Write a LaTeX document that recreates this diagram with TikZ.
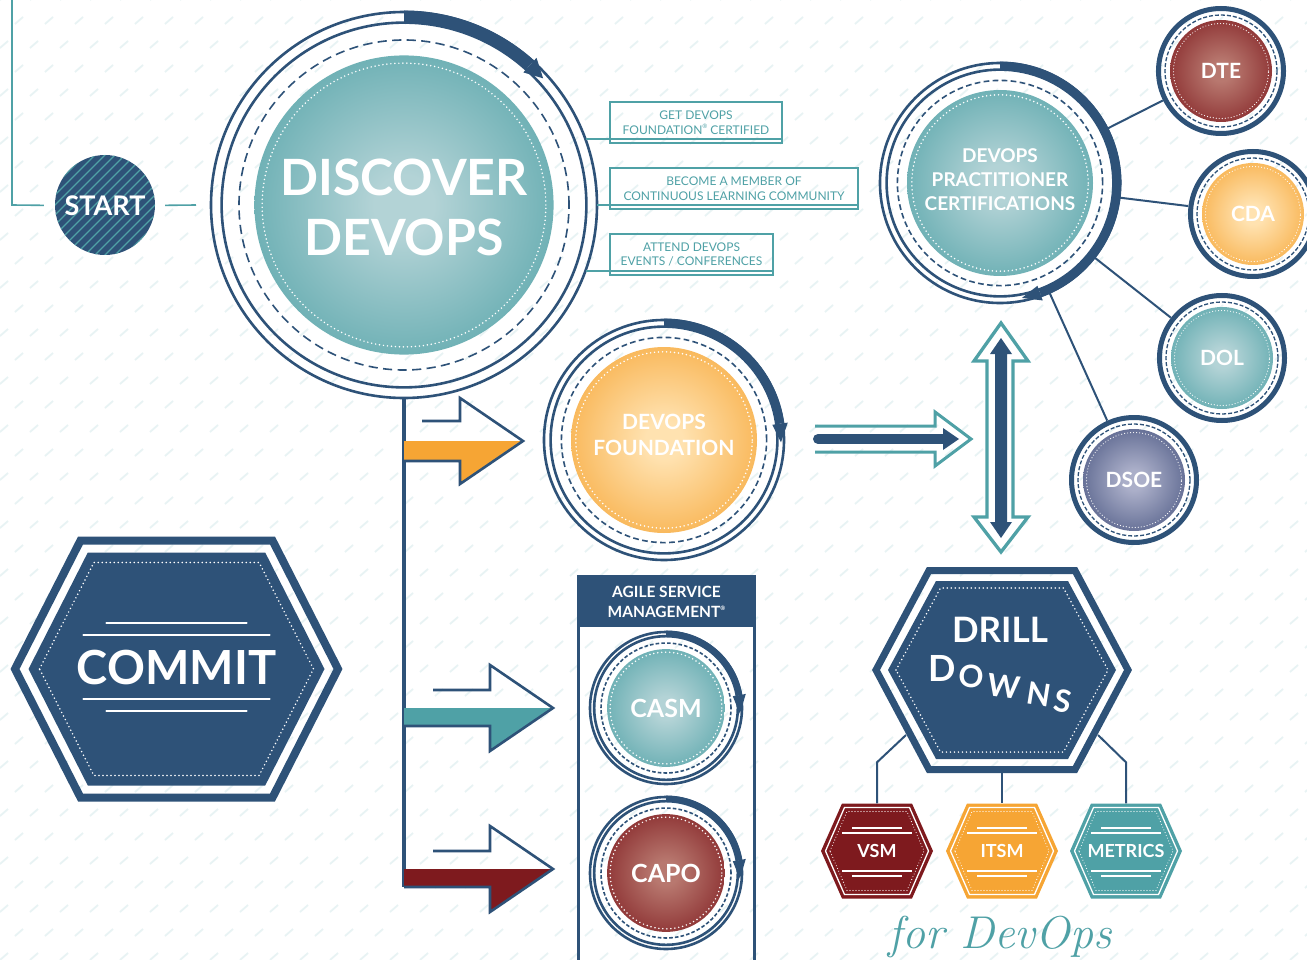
\documentclass[tikz,border=0pt]{standalone}
\usepackage{fontspec}
\setmainfont{Lato}
\usepackage{xcolor}
\definecolor{navy}{HTML}{2E5278}
\definecolor{tealC}{HTML}{4FA1A6}
\definecolor{tealL}{HTML}{B3D3D6}
\definecolor{orangeC}{HTML}{F6A534}
\definecolor{orangeL}{HTML}{FFE2B0}
\definecolor{redC}{HTML}{7E1A1E}
\definecolor{redL}{HTML}{B8786F}
\definecolor{slateC}{HTML}{46537F}
\definecolor{slateL}{HTML}{ABAFC9}
\pgfdeclareradialshading{glowteal}{\pgfpoint{0bp}{0bp}}{color(0bp)=(tealL); color(5bp)=(tealL); color(35bp)=(tealC); color(50bp)=(tealC)}
\pgfdeclareradialshading{gloworange}{\pgfpoint{0bp}{0bp}}{color(0bp)=(orangeL); color(5bp)=(orangeL); color(35bp)=(orangeC); color(50bp)=(orangeC)}
\pgfdeclareradialshading{glowred}{\pgfpoint{0bp}{0bp}}{color(0bp)=(redL); color(5bp)=(redL); color(35bp)=(redC); color(50bp)=(redC)}
\pgfdeclareradialshading{glowslate}{\pgfpoint{0bp}{0bp}}{color(0bp)=(slateL); color(5bp)=(slateL); color(35bp)=(slateC); color(50bp)=(slateC)}
\newcommand{\hexshape}[3]{(-#1,0) -- (-#2,#3) -- (#2,#3) -- (#1,0) -- (#2,-#3) -- (-#2,-#3) -- cycle}
\newcommand{\regmark}{\raisebox{0.45em}{\fontsize{6}{6}\selectfont ®}}

\begin{document}
\begin{tikzpicture}[x=1pt, y=1pt,
    ringline/.style={navy, line width=2.6pt},
    dotring/.style={white, line width=1.7pt, line cap=round, dash pattern=on 0pt off 4pt},
    link/.style={navy, line width=2pt},
    tealline/.style={tealC, line width=1.6pt},
    infobox/.style={draw=tealC, line width=1.4pt, text=tealC, align=center, inner sep=0pt, font=\fontsize{12}{14.5}\selectfont},
    wtext/.style={text=white, align=center, inner sep=0pt},
    bgdash/.style={tealC!13, line width=1.8pt}]

    \useasboundingbox (0,0) rectangle (1307,-960);
    \clip (0,0) rectangle (1307,-960);
    \fill[white] (0,0) rectangle (1307,-960);
    \draw[bgdash] \foreach \i in {0,...,44}{ \foreach \j in {0,...,40}{ ({\i*30+mod(\j,2)*15},{-\j*24}) -- ++(8,7) } };

    % start
    \fill[navy] (105,-205) circle[radius=50];
    \begin{scope}
        \clip (105,-205) circle[radius=50];
        \foreach \k in {-120,-110,...,120} \draw[tealC, line width=1.4pt] ({45+\k},-265) -- ++(120,120);
    \end{scope}
    \node[circle, minimum size=100pt, wtext, font=\fontsize{27}{27}\selectfont\bfseries] (start) at (105,-206) {START};
    \coordinate (frame-top) at (12,2);
    \coordinate (frame-corner) at (12,-205);
    \coordinate (start-lead) at (196,-205);
    \draw[tealline, shorten >=11pt] (frame-top) -- (frame-corner) -- (start);
    \draw[tealline, shorten <=10pt] (start) -- (start-lead);

    % ringed circles
    \foreach \n/\cx/\cy/\rad/\ang/\sh in {disc/404/205/193/48/glowteal, found/664/440/120/8/gloworange, prac/1000/183/120/-70/glowteal, casm/666/708/76/10/glowteal, capo/666/873/76/10/glowred}{
        \pgfmathsetmacro\rIn{0.945*\rad}
        \pgfmathsetmacro\rOut{\rad+1.5}
        \pgfmathsetmacro\rDash{0.855*\rad}
        \pgfmathsetmacro\rFill{0.775*\rad}
        \pgfmathsetmacro\rDot{0.735*\rad}
        \pgfmathsetmacro\rMid{0.975*\rad}
        \pgfmathsetmacro\rHa{0.945*\rad-4}
        \pgfmathsetmacro\rHb{\rad+5}
        \pgfmathsetmacro\aTip{\ang-1100/\rad}
        \pgfmathsetmacro\dSize{2*\rad}
        \pgfmathsetlengthmacro\dOn{\rad/21}
        \pgfmathsetlengthmacro\dOff{\rad/36}
        \shade[shading=\sh] (\cx,-\cy) circle[radius=\rFill];
        \draw[dotring] (\cx,-\cy) circle[radius=\rDot];
        \draw[navy, line width=1.6pt, dash pattern=on \dOn off \dOff] (\cx,-\cy) circle[radius=\rDash];
        \draw[ringline] (\cx,-\cy) circle[radius=\rIn];
        \draw[ringline] (\cx,-\cy) circle[radius=\rad];
        \begin{scope}[shift={(\cx,-\cy)}]
            \fill[navy] (90:\rIn) arc[start angle=90, end angle=\ang, radius=\rIn] -- (\ang:\rOut) arc[start angle=\ang, end angle=90, radius=\rOut] -- cycle;
            \fill[navy] (\ang:\rHa) -- (\ang:\rHb) -- (\aTip:\rMid) -- cycle;
        \end{scope}
        \node[circle, minimum size=\dSize pt, inner sep=0pt] (\n) at (\cx,-\cy) {};
    }
    \node[wtext, font=\fontsize{50}{60}\selectfont\bfseries] (disc-t) at ([yshift=-2pt]disc.center) {DISCOVER\\DEVOPS};
    \node[wtext, font=\fontsize{21}{26}\selectfont\bfseries] (found-t) at ([yshift=5pt]found.center) {DEVOPS\\FOUNDATION};
    \node[wtext, font=\fontsize{19}{24}\selectfont\bfseries] (prac-t) at ([yshift=3pt]prac.center) {DEVOPS\\PRACTITIONER\\CERTIFICATIONS};
    \node[wtext, font=\fontsize{25}{25}\selectfont\bfseries] (casm-t) at (casm) {CASM};
    \node[wtext, font=\fontsize{25}{25}\selectfont\bfseries] (capo-t) at (capo) {CAPO};

    % info boxes
    \node[infobox, minimum width=172pt, minimum height=41pt] (get) at (696,-122.5) {GET DEVOPS\\FOUNDATION\regmark{} CERTIFIED};
    \node[infobox, minimum width=248pt, minimum height=41pt] (member) at (734,-188.5) {BECOME A MEMBER OF\\CONTINUOUS LEARNING COMMUNITY};
    \node[infobox, minimum width=163pt, minimum height=41pt] (attend) at (691.5,-254.5) {ATTEND DEVOPS\\EVENTS / CONFERENCES};
    \draw[tealline] (disc.20) -- (disc.20 -| get.east);
    \draw[tealline] (disc.0) -- (disc.0 -| member.east);
    \draw[tealline] (disc.-20) -- (disc.-20 -| attend.east);

    % trunk and arrows
    \coordinate (trunk-end) at (404,-887);
    \draw[navy, line width=3.5pt] (disc.south) -- (trunk-end);
    \foreach \yc/\xs/\xb/\xt/\hs/\hh/\col in {441/422/460/523/20/43/orangeC, 708/433/490/553/18/43/tealC, 869/433/490/553/18/43/redC}{
        \fill[\col] (404,-\yc) -- (\xt,-\yc) -- (\xb,{-\yc-\hh}) -- (\xb,{-\yc-\hs}) -- (404,{-\yc-\hs}) -- cycle;
        \draw[navy, line width=2.6pt, line join=miter] (\xs,{-\yc+\hs}) -- (\xb,{-\yc+\hs}) -- (\xb,{-\yc+\hh}) -- (\xt,-\yc) -- (\xb,{-\yc-\hh}) -- (\xb,{-\yc-\hs}) -- (404,{-\yc-\hs});
    }

    % double arrows
    \draw[tealC, line width=3pt, line join=miter] (815,-426) -- (935,-426) -- (935,-412) -- (971,-439) -- (935,-466) -- (935,-452) -- (815,-452);
    \draw[navy, line width=10pt, line cap=round] (818,-439) -- (945,-439);
    \fill[navy] (943,-428) -- (959,-439) -- (943,-450) -- cycle;
    \filldraw[fill=white, draw=tealC, line width=3.3pt, line join=miter] (1001,-323) -- (1028,-361) -- (1013,-361) -- (1013,-517) -- (1028,-517) -- (1001,-552) -- (974,-517) -- (987,-517) -- (987,-361) -- (974,-361) -- cycle;
    \fill[navy] (1001,-338) -- (1012,-354) -- (1007,-354) -- (1007,-522) -- (1012,-522) -- (1001,-538) -- (990,-522) -- (995,-522) -- (995,-354) -- (990,-354) -- cycle;

    % certifications
    \foreach \n/\cx/\cy/\sh/\t in {dte/1221/71/glowred/DTE, cda/1253/214/gloworange/CDA, dol/1222/358/glowteal/DOL, dsoe/1134/480/glowslate/DSOE}{
        \shade[shading=\sh] (\cx,-\cy) circle[radius=51];
        \draw[dotring, line width=1.2pt, dash pattern=on 0pt off 3pt] (\cx,-\cy) circle[radius=47.5];
        \draw[navy, line width=1.3pt, dash pattern=on 4pt off 2pt] (\cx,-\cy) circle[radius=56];
        \draw[navy, line width=5pt] (\cx,-\cy) circle[radius=62.5];
        \node[circle, minimum size=130pt, wtext, font=\fontsize{21}{21}\selectfont\bfseries] (\n) at (\cx,-\cy) {\t};
    }
    \foreach \m in {dte,cda,dol,dsoe} \draw[link] (prac) -- (\m);

    % commit
    \begin{scope}[shift={(176.5,-669)}]
        \draw[navy, line width=8pt, line join=miter] \hexshape{161.5}{96}{128.5};
        \fill[navy] \hexshape{148}{88.7}{116.5};
        \draw[dotring] \hexshape{137}{82.6}{106.5};
        \foreach \h/\w in {46/70, 34/93, -30/93, -42/70} \draw[white, line width=2.5pt, line cap=round] (-\w,\h) -- (\w,\h);
    \end{scope}
    \node[wtext, font=\fontsize{47}{47}\selectfont\bfseries] (commit) at (176.5,-668) {COMMIT};

    % agile service management
    \coordinate (page-bottom) at (0,-966);
    \node[wtext, fill=navy, minimum width=175pt, minimum height=50pt, font=\fontsize{15.5}{20}\selectfont\bfseries] (asm) at (666.5,-602) {AGILE SERVICE\\MANAGEMENT\regmark};
    \draw[navy, line width=3pt] (asm.north west) rectangle (asm.east |- page-bottom);

    % drill downs
    \begin{scope}[shift={(1002,-670)}]
        \draw[navy, line width=7pt, line join=miter] \hexshape{126}{73}{99.5};
        \fill[navy] \hexshape{114}{66}{89};
        \draw[dotring] \hexshape{106}{61.5}{82};
    \end{scope}
    \node[text=white, anchor=base, font=\fontsize{35}{35}\selectfont\bfseries] (dd-title) at (1000,-642) {DRILL};
    \node[text=white, anchor=base, font=\fontsize{36}{36}\selectfont\bfseries] (dl-d) at (942,-681) {D};
    \node[text=white, anchor=base, rotate=-5, font=\fontsize{31}{31}\selectfont\bfseries] (dl-o) at (970,-688) {O};
    \node[text=white, anchor=base, rotate=-7, font=\fontsize{31}{31}\selectfont\bfseries] (dl-w) at (1003,-697) {W};
    \node[text=white, anchor=base, rotate=-9, font=\fontsize{31}{31}\selectfont\bfseries] (dl-n) at (1037,-705) {N};
    \node[text=white, anchor=base, rotate=-11, font=\fontsize{31}{31}\selectfont\bfseries] (dl-s) at (1061,-712) {S};
    \coordinate (dd-sw) at (906,-735);
    \coordinate (dd-s) at (1002,-773);
    \coordinate (dd-se) at (1098,-735);

    \foreach \n/\cx/\col/\t in {vsm/877/redC/VSM, itsm/1002/orangeC/ITSM, metrics/1126/tealC/METRICS}{
        \begin{scope}[shift={(\cx,-851)}]
            \fill[\col] \hexshape{56}{35}{47.5};
            \draw[white, line width=1.3pt] \hexshape{51.5}{32.5}{43.5};
            \draw[dotring, line width=1.1pt, dash pattern=on 0pt off 3pt] \hexshape{47}{30}{39.5};
            \foreach \h/\w in {23/25, 18/35, -20/35, -25/25} \draw[white, line width=1.3pt] (-\w,\h) -- (\w,\h);
        \end{scope}
        \node[wtext, minimum width=112pt, minimum height=95pt, font=\fontsize{18}{18}\selectfont\bfseries] (\n) at (\cx,-851) {\t};
    }
    \draw[link] (vsm.north) -- ++(0,41) -- (dd-sw);
    \draw[link] (dd-s) -- (itsm.north);
    \draw[link] (metrics.north) -- ++(0,41) -- (dd-se);

    \node[text=tealC, anchor=base, font=\fontfamily{lmr}\fontsize{46}{46}\selectfont\itshape] (tagline) at (1000,-948) {for DevOps};
\end{tikzpicture}
\end{document}
